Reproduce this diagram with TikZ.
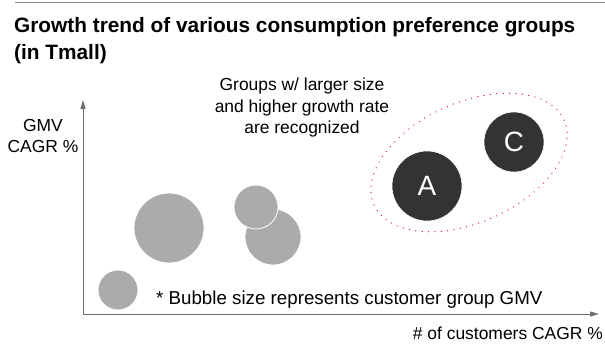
\documentclass[tikz,border=0pt]{standalone}
\usepackage{fontspec}
\setmainfont{Liberation Sans}
\usetikzlibrary{arrows.meta,shapes.geometric}
\definecolor{bubgray}{HTML}{ABABAB}
\definecolor{bubdark}{HTML}{333333}
\definecolor{axisgray}{HTML}{6E6E6E}
\definecolor{rulegray}{HTML}{8C8C8C}
\definecolor{dotred}{HTML}{D0202F}
\tikzset{
  bubble/.style={circle, fill=bubgray, draw=white, line width=0.8bp, inner sep=0pt, minimum size=#1},
  darkbubble/.style={circle, fill=bubdark, draw=white, line width=0.6bp, inner sep=0pt, minimum size=#1,
     text=white, font=\fontsize{28}{30}\selectfont},
  body/.style={font=\fontsize{17.5}{22}\selectfont, inner sep=0pt, text=black},
  footstyle/.style={font=\fontsize{18.8}{22}\selectfont, inner sep=0pt, text=black},
  titletext/.style={font=\fontsize{20.9}{26}\selectfont\bfseries, inner sep=0pt, anchor=base west},
  axisline/.style={draw=axisgray, line width=1bp, -{Triangle[length=9bp,width=5bp]}},
}
\begin{document}
\begin{tikzpicture}[x=1bp,y=-1bp]
\useasboundingbox (0,0) rectangle (605,347);
% top rule
\coordinate (ruleL) at (15,2.5);
\coordinate (ruleR) at (605,2.5);
\draw[rulegray, line width=1.2bp] (ruleL) -- (ruleR);
% title
\node[titletext] (title1) at (14,32.3) {Growth trend of various consumption preference groups};
\node[titletext] (title2) at (14,59.5) {(in Tmall)};
% axes
\coordinate (origin) at (83,314);
\coordinate (ytop) at (83,100);
\coordinate (xend) at (599,314);
\draw[axisline] (origin) -- (ytop);
\draw[axisline] (origin) -- (xend);
% axis labels
\node[body, align=center] (ylab) at (43,136) {GMV\\CAGR \%};
\node[body, anchor=base east] (xlab) at (603,339) {\# of customers CAGR \%};
% annotation
\node[body, align=center] (note) at (302,107.5) {Groups w/ larger size\\and higher growth rate\\are recognized};
% gray bubbles
\node[bubble=40bp] (b1) at (118,290) {};
\node[bubble=70bp] (b2) at (169,228) {};
\node[bubble=56bp] (b3) at (273,237) {};
\node[bubble=44bp] (b4) at (256,207) {};
% footnote
\node[footstyle, anchor=base west] (foot) at (156,304) {* Bubble size represents customer group GMV};
% highlighted group
\node[draw=dotred, line width=1.3bp, dash pattern=on 0.1bp off 6.3bp, line cap=round,
      ellipse, rotate=24, minimum width=208bp, minimum height=120bp, inner sep=0pt] (grp) at (469,162.5) {};
\node[darkbubble=70bp] (A) at (427,186) {A};
\node[darkbubble=60bp] (C) at (514,142) {C};
\end{tikzpicture}
\end{document}
